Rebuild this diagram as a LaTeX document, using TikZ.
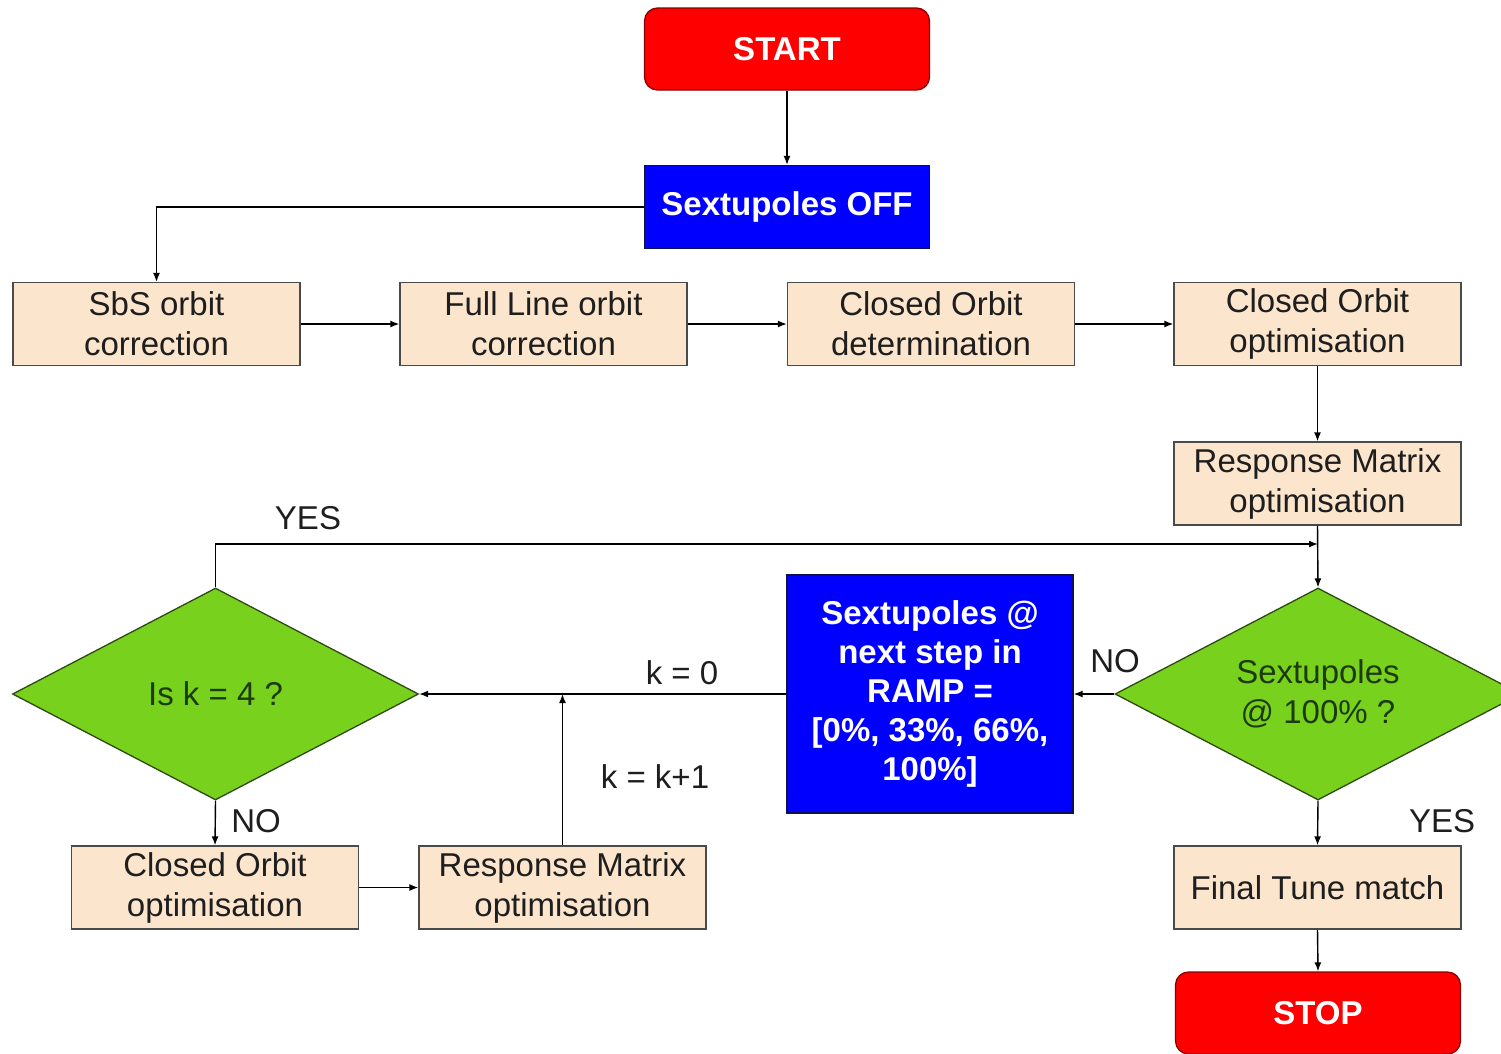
\documentclass[tikz,border=0pt]{standalone}
\usepackage{fontspec}
\setmainfont{Liberation Sans}
\usetikzlibrary{shapes.geometric,arrows.meta}
\definecolor{beige}{HTML}{FCE5CD}
\definecolor{boxline}{HTML}{4A4A4A}
\definecolor{lime}{HTML}{78D11C}
\definecolor{limeline}{HTML}{2E4A12}
\definecolor{redfill}{HTML}{FF0000}
\definecolor{redline}{HTML}{8A0000}
\definecolor{bluefill}{HTML}{0000FF}
\definecolor{blueline}{HTML}{101050}
\definecolor{txt}{HTML}{1E1E1E}
\definecolor{gtxt}{HTML}{1C3A0C}
\tikzset{
  proc/.style={rectangle, draw=boxline, line width=1.3pt, fill=beige, text=txt,
    minimum width=287pt, minimum height=83pt, inner sep=0pt, align=center,
    font=\fontsize{33}{40}\selectfont},
  term/.style={rectangle, rounded corners=13pt, draw=redline, line width=1.3pt, fill=redfill,
    text=white, minimum width=285pt, minimum height=82pt, inner sep=0pt, align=center,
    font=\fontsize{33}{40}\selectfont\bfseries},
  bluebox/.style={rectangle, draw=blueline, line width=1.3pt, fill=bluefill, text=white,
    inner sep=0pt, align=center, font=\fontsize{33}{39}\selectfont\bfseries},
  dec/.style={diamond, shape aspect=2, draw=limeline, line width=1.3pt, fill=lime, text=gtxt,
    minimum width=406pt, minimum height=212pt, inner sep=0pt, align=center,
    font=\fontsize{33}{40}\selectfont},
  conn/.style={draw=black, line width=1.4pt, -{Latex[length=9pt,width=7pt]}},
  lbl/.style={text=txt, font=\fontsize{33}{40}\selectfont, inner sep=0pt}
}
\begin{document}
\begin{tikzpicture}[x=1pt,y=-1pt]
\useasboundingbox[fill=white] (0,0) rectangle (1501,1053);

\node[term] (start) at (787,49) {START};
\node[bluebox, minimum width=285pt, minimum height=83pt] (off) at (787,207) {Sextupoles OFF};
\node[proc] (sbs) at (156.5,324) {SbS orbit\\correction};
\node[proc] (full) at (543.5,324) {Full Line orbit\\correction};
\node[proc] (codet) at (931,324) {Closed Orbit\\determination};
\node[proc] (coopt) at (1317.5,324) {Closed Orbit\\optimisation};
\node[proc] (rmopt) at (1317.5,483.5) {Response Matrix\\optimisation};
\node[dec] (dR) at (1318,694) {Sextupoles\\@ 100\% ?};
\node[dec] (dL) at (215.5,694) {Is k = 4 ?};
\node[bluebox, minimum width=286pt, minimum height=238pt] (ramp) at (930,694)
  {Sextupoles @\\next step in\\RAMP =\\{[}0\%, 33\%, 66\%,\\100\%{]}};
\node[proc] (co2) at (215,887.5) {Closed Orbit\\optimisation};
\node[proc] (rm2) at (562.5,887.5) {Response Matrix\\optimisation};
\node[proc] (tune) at (1317.5,887.5) {Final Tune match};
\node[term] (stop) at (1318,1013) {STOP};

\coordinate (c1) at (156.5,207);
\coordinate (c2) at (215.5,544);
\coordinate (c3) at (1318,544);
\coordinate (c4) at (562.5,694);

\draw[conn] (start.south) -- (off.north);
\draw[conn] (off.west) -- (c1) -- (sbs.north);
\draw[conn] (sbs.east) -- (full.west);
\draw[conn] (full.east) -- (codet.west);
\draw[conn] (codet.east) -- (coopt.west);
\draw[conn] (coopt.south) -- (rmopt.north);
\draw[conn] (rmopt.south) -- (dR.north);
\draw[conn] (dL.north) -- (c2) -- (c3);
\draw[conn] (dR.west) -- (ramp.east);
\draw[conn] (ramp.west) -- (dL.east);
\draw[conn] (rm2.north) -- (c4);
\draw[conn] (dL.south) -- (co2.north);
\draw[conn] (co2.east) -- (rm2.west);
\draw[conn] (dR.south) -- (tune.north);
\draw[conn] (tune.south) -- (stop.north);

\node[lbl] (yes1) at (308,518) {YES};
\node[lbl] (no1) at (1115,661) {NO};
\node[lbl] (k0) at (682,673) {k = 0};
\node[lbl] (kk) at (655,777) {k = k+1};
\node[lbl] (no2) at (256,821) {NO};
\node[lbl] (yes2) at (1442,821) {YES};
\end{tikzpicture}
\end{document}
